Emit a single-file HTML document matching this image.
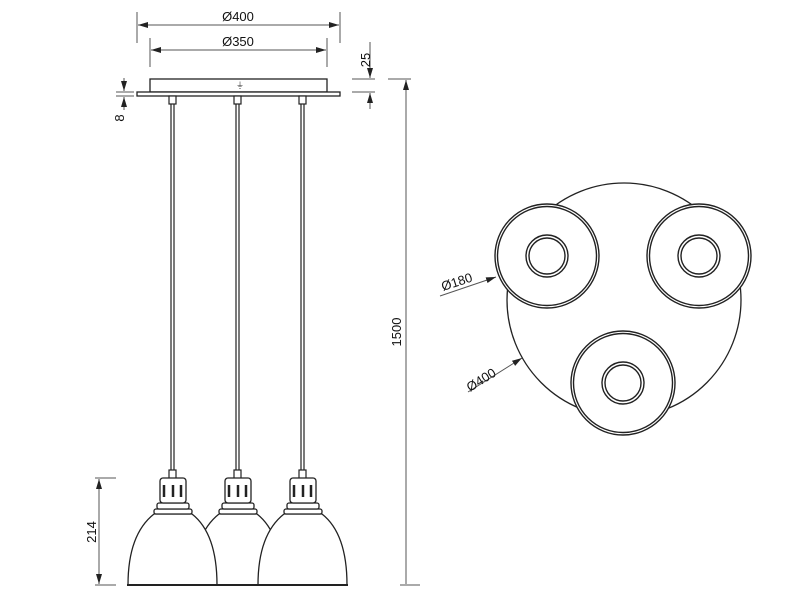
<!DOCTYPE html>
<html><head><style>body{margin:0;background:#fff}svg{display:block}</style></head><body>
<svg width="800" height="600" viewBox="0 0 800 600" xmlns="http://www.w3.org/2000/svg" font-family="Liberation Sans, sans-serif">
<defs>
<marker id="a" viewBox="0 0 10 6" refX="10" refY="3" markerWidth="10" markerHeight="6" orient="auto-start-reverse" markerUnits="userSpaceOnUse"><path d="M0,0 L10,3 L0,6 z" fill="#222"/></marker>
<g id="s1" stroke="#222" stroke-width="1.3" fill="#fff">
<path d="M128,585 C128,545 140,525 154,514 L192,514 C206,525 217,545 217,585 Z"/>
<rect x="154" y="509" width="38" height="5" rx="2"/>
<rect x="157" y="503" width="32" height="6" rx="2"/>
<rect x="160" y="478" width="26" height="25" rx="3"/>
<line x1="164" y1="485" x2="164" y2="497" stroke-width="2.5"/>
<line x1="173" y1="485" x2="173" y2="497" stroke-width="2.5"/>
<line x1="181" y1="485" x2="181" y2="497" stroke-width="2.5"/>
<line x1="127" y1="585" x2="218" y2="585" stroke-width="2"/>
</g>
<g id="l1" stroke="#222" stroke-width="1.2" fill="#fff">
<rect x="169" y="96" width="7" height="8"/>
<line x1="171" y1="104" x2="171" y2="472"/><line x1="174" y1="104" x2="174" y2="472"/>
<rect x="169" y="470" width="7" height="9"/>
</g>
<g id="c1" stroke="#222" fill="#fff">
<circle cx="547" cy="256" r="52" stroke-width="1.4"/>
<circle cx="547" cy="256" r="49.5" stroke-width="1.4"/>
<circle cx="547" cy="256" r="21" stroke-width="1.4"/>
<circle cx="547" cy="256" r="18" stroke-width="1.4"/>
</g>
</defs>
<g stroke="#555" stroke-width="1" fill="none">
<line x1="137" y1="12" x2="137" y2="43"/><line x1="340" y1="12" x2="340" y2="43"/>
<line x1="138" y1="25" x2="339" y2="25" marker-start="url(#a)" marker-end="url(#a)"/>
<line x1="150" y1="38" x2="150" y2="67"/><line x1="327" y1="38" x2="327" y2="67"/>
<line x1="151" y1="50" x2="326" y2="50" marker-start="url(#a)" marker-end="url(#a)"/>
<line x1="352" y1="79" x2="375" y2="79"/><line x1="352" y1="92" x2="375" y2="92"/>
<line x1="370" y1="42" x2="370" y2="78" marker-end="url(#a)"/>
<line x1="370" y1="109" x2="370" y2="93" marker-end="url(#a)"/>
<line x1="388" y1="79" x2="411" y2="79"/><line x1="400" y1="585" x2="420" y2="585"/>
<line x1="406" y1="584" x2="406" y2="80" marker-end="url(#a)"/>
<line x1="116" y1="92" x2="134" y2="92"/><line x1="116" y1="96" x2="134" y2="96"/>
<line x1="124" y1="78" x2="124" y2="91" marker-end="url(#a)"/>
<line x1="124" y1="110" x2="124" y2="97" marker-end="url(#a)"/>
<line x1="95" y1="478" x2="116" y2="478"/><line x1="95" y1="585" x2="116" y2="585"/>
<line x1="99" y1="479" x2="99" y2="584" marker-start="url(#a)" marker-end="url(#a)"/>
<line x1="440" y1="296" x2="496" y2="277" marker-end="url(#a)"/>
<line x1="468" y1="392" x2="522" y2="358" marker-end="url(#a)"/>
</g>
<g fill="#111" font-size="13">
<text x="238" y="21" text-anchor="middle">Ø400</text>
<text x="238" y="46" text-anchor="middle">Ø350</text>
<text transform="translate(370,60) rotate(-90)" text-anchor="middle">25</text>
<text transform="translate(401,332) rotate(-90)" text-anchor="middle">1500</text>
<text transform="translate(124,118) rotate(-90)" text-anchor="middle">8</text>
<text transform="translate(96,532) rotate(-90)" text-anchor="middle">214</text>
<text transform="translate(443,291) rotate(-18)">Ø180</text>
<text transform="translate(470,392) rotate(-32)">Ø400</text>
</g>
<g stroke="#222" stroke-width="1.3" fill="#fff">
<rect x="150" y="79" width="177" height="13"/>
<rect x="137" y="92" width="203" height="4"/>
<text x="236" y="88" font-size="8" stroke="none" fill="#333">⏚</text>
</g>
<use href="#l1"/><use href="#l1" x="65"/><use href="#l1" x="130"/>
<use href="#s1" x="65"/>
<use href="#s1"/>
<use href="#s1" x="130"/>
<circle cx="624" cy="300" r="117" stroke="#222" stroke-width="1.3" fill="#fff"/>
<use href="#c1"/>
<use href="#c1" x="152"/>
<use href="#c1" x="76" y="127"/>
</svg>
</body></html>
